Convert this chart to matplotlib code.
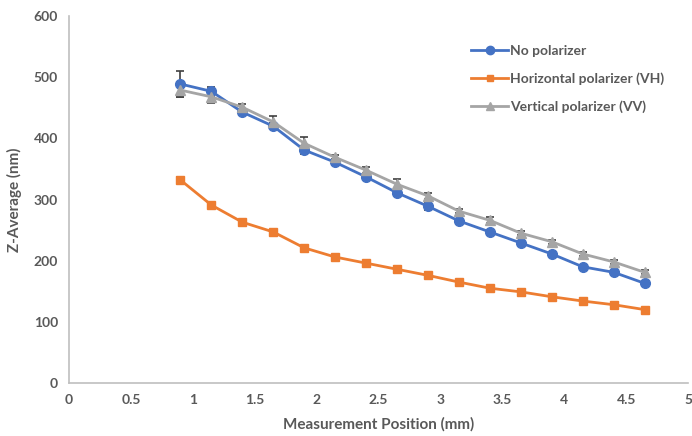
import matplotlib.pyplot as plt
from matplotlib.lines import Line2D

# measurement positions (mm)
position = [0.9, 1.15, 1.4, 1.65, 1.9, 2.15, 2.4, 2.65, 2.9, 3.15, 3.4,
            3.65, 3.9, 4.15, 4.4, 4.65]

# Z-average (nm) per configuration
no_pol = [489, 477, 443, 420, 381, 361, 337, 311, 289, 265, 247, 229, 211,
          190, 181, 163]
no_pol_err = [22, 7, 5, 5, 6, 5, 4, 4, 6, 3, 3, 3, 3, 3, 3, 3]

horiz_vh = [332, 291, 263, 247, 221, 206, 196, 186, 176, 165, 155, 149, 141,
            134, 128, 120]
horiz_vh_err = [5, 2, 2, 2, 2, 2, 2, 2, 2, 2, 2, 2, 2, 2, 2, 2]

vert_vv = [479, 468, 451, 427, 392, 369, 348, 325, 306, 281, 266, 245, 231,
           211, 198, 181]
vert_vv_err = [12, 10, 5, 10, 10, 4, 5, 8, 5, 3, 5, 3, 3, 3, 3, 3]

plt.rcParams['font.family'] = ['Lato', 'DejaVu Sans']
txt = '#595959'

fig = plt.figure(figsize=(6.92, 4.36), dpi=100)
ax = fig.add_axes([0.0997, 0.1216, 0.8945, 0.8414])

series = [
    (no_pol, no_pol_err, '#4472C4', 'o', 'No polarizer', 7),
    (horiz_vh, horiz_vh_err, '#ED7D31', 's', 'Horizontal polarizer (VH)', 6),
    (vert_vv, vert_vv_err, '#A5A5A5', '^', 'Vertical polarizer (VV)', 7),
]
handles = []
for vals, err, col, mk, lab, ms in series:
    ax.errorbar(position, vals, yerr=err, color=col, marker=mk, ms=ms,
                lw=2, ecolor='#404040', elinewidth=1.2,
                capsize=3, capthick=1.2)
    handles.append(Line2D([], [], color=col, marker=mk, ms=ms - 1, lw=2,
                          label=lab))

ax.set_xlim(0, 5)
ax.set_ylim(0, 600)
ax.set_xticks([0, 0.5, 1, 1.5, 2, 2.5, 3, 3.5, 4, 4.5, 5])
ax.set_xticklabels(['0', '0.5', '1', '1.5', '2', '2.5', '3', '3.5', '4',
                    '4.5', '5'])
ax.set_yticks(range(0, 601, 100))

for s in ['top', 'right']:
    ax.spines[s].set_visible(False)
for s in ['left', 'bottom']:
    ax.spines[s].set_color('#BFBFBF')
    ax.spines[s].set_linewidth(1.2)
ax.tick_params(length=0, colors=txt, labelsize=10, pad=8)
for t in ax.get_xticklabels() + ax.get_yticklabels():
    t.set_fontweight('bold')

ax.set_xlabel('Measurement Position (mm)', color=txt, fontsize=11,
              fontweight='bold', labelpad=8)
ax.set_ylabel('Z-Average (nm)', color=txt, fontsize=11, fontweight='bold',
              labelpad=8)

leg = ax.legend(handles=handles, loc='upper left',
                bbox_to_anchor=(0.63, 0.955), frameon=False,
                fontsize=10, labelspacing=1.1, handlelength=2.6,
                handletextpad=0.2)
for t in leg.get_texts():
    t.set_color(txt)
    t.set_fontweight('bold')

plt.savefig('out.png', dpi=100)
